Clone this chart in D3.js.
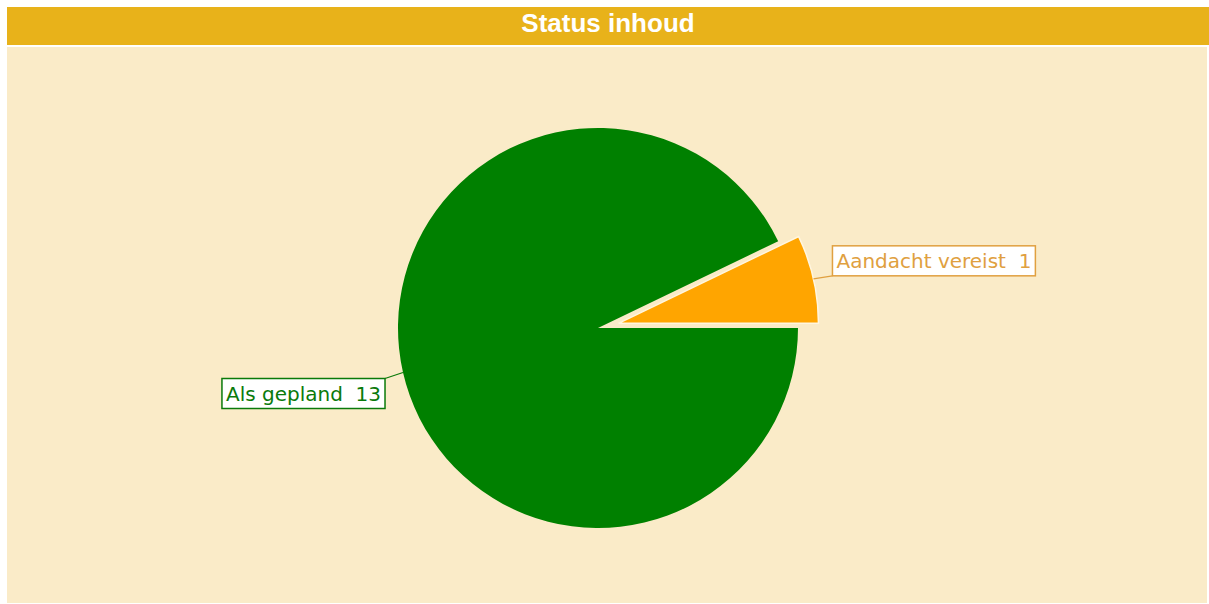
<!DOCTYPE html>
<html>
<head>
<meta charset="utf-8">
<script src="https://cdn.jsdelivr.net/npm/d3@7"></script>
<style>
  body { margin: 0; background: #fff; }
  svg { display: block; }
</style>
</head>
<body>
<svg width="1209" height="604"></svg>
<script>
// data
var categories = ["Als gepland", "Aandacht vereist"];
var values = [13, 1];
var colors = ["#008000", "#FFA500"];
var labelColors = ["#0a7a0a", "#E0A040"];
var exploded = [false, true];
var title = "Status inhoud";

var svg = d3.select("svg"),
    W = 1209, H = 604;

// header bar + panel
svg.append("rect").attr("x", 7).attr("y", 7).attr("width", W - 7).attr("height", 38).attr("fill", "#E8B21A");
svg.append("rect").attr("x", 7).attr("y", 47).attr("width", W - 9).attr("height", H - 48).attr("fill", "#FAEBC8");
svg.append("text")
    .attr("x", (7 + W) / 2)
    .attr("y", 32)
    .attr("text-anchor", "middle")
    .attr("fill", "#fff")
    .style("font", "bold 26px 'Liberation Sans', Arial, sans-serif")
    .text(title);

var cx = 598, cy = 328, radius = 200, explode = 21;

var data = categories.map(function(c, i) {
    return { name: c, value: values[i], color: colors[i], label: labelColors[i], exploded: exploded[i] };
});

var pie = d3.pie()
    .sort(null)
    .value(function(d) { return d.value; })
    .startAngle(Math.PI / 2)
    .endAngle(Math.PI / 2 + 2 * Math.PI);

var arc = d3.arc().innerRadius(0).outerRadius(radius);

var g = svg.append("g").attr("transform", "translate(" + cx + "," + cy + ")");

var arcs = pie(data);

function offset(d) {
    if (!d.data.exploded) return [0, 0];
    var a = (d.startAngle + d.endAngle) / 2;
    return [Math.sin(a) * explode, -Math.cos(a) * explode];
}

g.selectAll(".slice")
    .data(arcs)
    .enter().append("path")
    .attr("class", "slice")
    .attr("transform", function(d) { var o = offset(d); return "translate(" + o[0] + "," + o[1] + ")"; })
    .attr("d", arc)
    .attr("fill", function(d) { return d.data.color; })
    .attr("stroke", function(d) { return d.data.exploded ? "#FFF6E0" : "none"; })
    .attr("stroke-width", 1.5);

// labels
var fontSize = 20, padX = 4, boxH = 30;

arcs.forEach(function(d) {
    var o = offset(d);
    var a = (d.startAngle + d.endAngle) / 2;
    var sx = o[0] + Math.sin(a) * radius, sy = o[1] - Math.cos(a) * radius;
    var right = sx > 0;
    var ex = sx + (right ? 19 : -18), ey = sy + (right ? -3 : 6);

    g.append("line")
        .attr("x1", sx).attr("y1", sy).attr("x2", ex).attr("y2", ey)
        .attr("stroke", d.data.label).attr("stroke-width", 1.2);

    var lab = g.append("g");
    var box = lab.append("rect")
        .attr("fill", "#fff")
        .attr("stroke", d.data.label)
        .attr("stroke-width", 1.5);
    var txt = lab.append("text")
        .attr("fill", d.data.label)
        .style("font-family", "'DejaVu Sans', Verdana, sans-serif")
        .style("font-size", fontSize + "px")
        .style("white-space", "pre")
        .text(d.data.name + "  " + d.data.value);
    var w = txt.node().getComputedTextLength() + padX * 2;
    var bx = right ? ex : ex - w;
    var by = right ? ey - boxH : ey;
    box.attr("x", bx).attr("y", by).attr("width", w).attr("height", boxH);
    txt.attr("x", bx + padX).attr("y", by + 22);
});
</script>
</body>
</html>
